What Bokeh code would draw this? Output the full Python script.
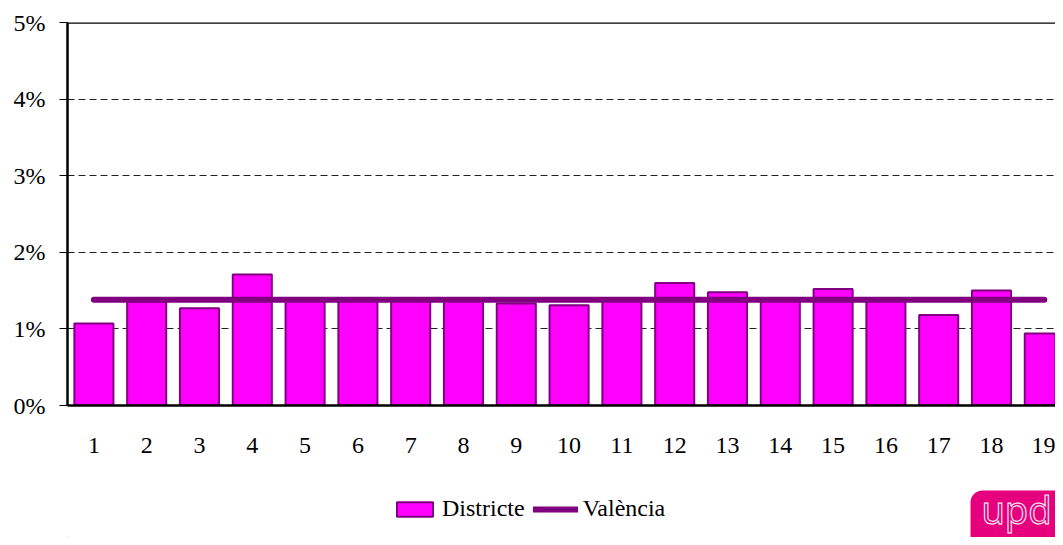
from bokeh.plotting import figure
from bokeh.layouts import column
from bokeh.models import (Range1d, FixedTicker, Legend, LegendItem, Span,
                          BoxAnnotation, Label, ColumnDataSource)
from bokeh.embed import file_html
from bokeh.resources import INLINE

# ---- data ----
districts = list(range(1, 20))
district_share = [1.07, 1.36, 1.27, 1.71, 1.38, 1.38, 1.39, 1.37, 1.33, 1.31,
                  1.38, 1.60, 1.48, 1.37, 1.52, 1.39, 1.18, 1.50, 0.94]
valencia_share = [1.38] * 19
y_ticks = [0, 1, 2, 3, 4, 5]
y_tick_labels = ["0%", "1%", "2%", "3%", "4%", "5%"]
series_names = ["Districte", "València"]

FONT = "Liberation Serif"
BAR_FILL = "#FF00FF"
PURPLE = "#800080"
LOGO = "#E6007E"

W = 1055
LEFT = 67
H_MAIN = 470
H_LEG = 537 - H_MAIN

src = ColumnDataSource(dict(x=districts, top=district_share, v=valencia_share))

p = figure(width=W, height=H_MAIN, output_backend="svg", toolbar_location=None,
           x_range=Range1d(0.5, 0.5 + (W - LEFT) / 52.8), y_range=Range1d(0, 5),
           min_border_left=LEFT, min_border_right=0, min_border_top=22,
           min_border_bottom=H_MAIN - 22 - 383)
p.outline_line_color = None

bars = p.vbar(x="x", top="top", width=0.74, source=src,
              fill_color=BAR_FILL, line_color=PURPLE, line_width=2)
line = p.line(x="x", y="v", source=src, line_color=PURPLE, line_width=6,
              line_cap="round")

# top frame line
p.add_layout(Span(location=5, dimension="width", line_color="black", line_width=2.5))

# axes
p.yaxis.ticker = FixedTicker(ticks=y_ticks)
p.yaxis.major_label_overrides = {t: l for t, l in zip(y_ticks, y_tick_labels)}
p.yaxis.axis_line_color = "black"
p.yaxis.axis_line_width = 2.5
p.yaxis.major_tick_out = 8
p.yaxis.major_tick_in = 0
p.yaxis.major_tick_line_color = "black"
p.yaxis.minor_tick_line_color = None
p.yaxis.major_label_standoff = 14
p.yaxis.major_label_text_font = FONT
p.yaxis.major_label_text_font_size = "24px"
p.yaxis.major_label_text_color = "black"

p.xaxis.ticker = FixedTicker(ticks=districts)
p.xaxis.axis_line_color = "black"
p.xaxis.axis_line_width = 2.5
p.xaxis.major_tick_out = 0
p.xaxis.major_tick_in = 0
p.xaxis.minor_tick_line_color = None
p.xaxis.major_label_standoff = 32
p.xaxis.major_label_text_font = FONT
p.xaxis.major_label_text_font_size = "24px"
p.xaxis.major_label_text_color = "black"

p.xgrid.grid_line_color = None
p.ygrid.grid_line_color = "#222222"
p.ygrid.grid_line_dash = "7 4"
p.ygrid.grid_line_width = 1

# ---- legend + logo strip (frame aligned with the main plot's frame) ----
q = figure(width=W, height=H_LEG, output_backend="svg", toolbar_location=None,
           x_range=Range1d(LEFT, W), y_range=Range1d(0, H_LEG),
           x_axis_location=None, y_axis_location=None,
           min_border_left=LEFT, min_border_right=0,
           min_border_top=0, min_border_bottom=0)
q.grid.visible = False
q.outline_line_color = None

lsrc = ColumnDataSource(dict(x=[-100], top=[-100], v=[-100]))
lbars = q.vbar(x="x", top="top", width=1, source=lsrc,
               fill_color=BAR_FILL, line_color=PURPLE, line_width=2)
lline = q.line(x="x", y="v", source=lsrc, line_color=PURPLE, line_width=6,
               line_cap="round")

legend = Legend(items=[LegendItem(label=series_names[0], renderers=[lbars]),
                       LegendItem(label=series_names[1], renderers=[lline])],
                orientation="horizontal",
                location=(392 - LEFT, H_LEG - (522 - H_MAIN)),
                glyph_width=45, glyph_height=18, label_standoff=5, spacing=8,
                padding=0, margin=0, border_line_color=None,
                background_fill_alpha=0,
                label_text_font=FONT, label_text_font_size="24px",
                label_text_color="black")
q.add_layout(legend, "center")

# upd logo
q.add_layout(BoxAnnotation(left=970, right=W + 20, top=H_LEG - (490 - H_MAIN),
                           bottom=-20, fill_color=LOGO, fill_alpha=1,
                           line_color=None, border_radius=12))
logo_kw = dict(x=1016, y=H_LEG - (508 - H_MAIN), text="upd",
               text_font="Noto Sans", text_font_size="38px",
               text_align="center", text_baseline="middle")
if "text_outline_color" in Label.properties():
    logo_kw.update(text_color=LOGO, text_outline_color="white")
else:
    logo_kw.update(text_color="white")
q.add_layout(Label(**logo_kw))

open("out.html", "w").write(file_html(column(p, q, spacing=0), INLINE))
